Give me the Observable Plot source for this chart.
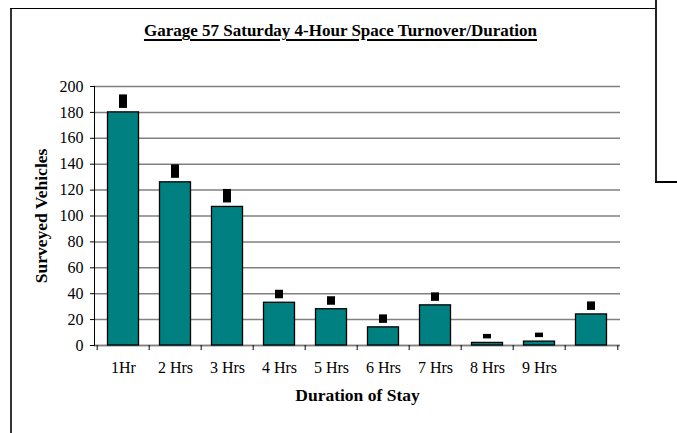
<!DOCTYPE html>
<html><head><meta charset="utf-8">
<script src="https://cdn.jsdelivr.net/npm/d3@7"></script>
<script src="https://cdn.jsdelivr.net/npm/@observablehq/plot@0.6"></script>
<style>
body{margin:0;background:#fff;}
#wrap{position:relative;width:677px;height:433px;overflow:hidden;font-family:"Liberation Serif","Times New Roman",serif;}
.ln{position:absolute;background:#000;}
#title{position:absolute;left:0;width:681px;top:21px;line-height:19px;text-align:center;font-family:"Liberation Serif",serif;font-weight:bold;font-size:17px;text-decoration:underline;text-decoration-thickness:1.5px;text-underline-offset:3px;color:#000;}
#chart{position:absolute;left:0;top:0;}
#chart svg, #chart svg text{font-family:"Liberation Serif","Times New Roman",serif !important;}
</style></head><body>
<div id="wrap">
  <div id="chart"></div>
  <div class="ln" style="left:10px;top:8px;width:2px;height:425px;background:#333"></div>
  <div class="ln" style="left:10px;top:7.5px;width:646px;height:1.5px;"></div>
  <div class="ln" style="left:655px;top:0;width:1.5px;height:182px;background:#222"></div>
  <div class="ln" style="left:655px;top:181px;width:22px;height:1.5px;"></div>
  <div id="title">Garage 57 Saturday 4-Hour Space Turnover/Duration</div>
</div>
<script>
const tickLabels = ["1Hr","2 Hrs","3 Hrs","4 Hrs","5 Hrs","6 Hrs","7 Hrs","8 Hrs","9 Hrs",""];
const vehicles = [180,126,107,33,28,14,31,2,3,24];
const yTicks = [0,20,40,60,80,100,120,140,160,180,200];

const data = tickLabels.map((label,i)=>({i,label,v:vehicles[i]}));
const idx = data.map(d=>d.i);
const big = data.filter(d=>d.v>=100);
const mid = data.filter(d=>d.v>=10 && d.v<100);
const small = data.filter(d=>d.v<10);
const mk = {x:"i", y1:"v", y2:"v", fill:"black", insetLeft:22, insetRight:22};
const serif = '"Liberation Serif","Times New Roman",serif';

const plot = Plot.plot({
  width:677, height:433,
  marginLeft:94, marginRight:57, marginTop:86, marginBottom:88,
  style:{fontFamily:serif, fontSize:"16px", color:"#000", background:"transparent"},
  x:{type:"band", domain:idx, padding:0},
  y:{domain:[0,200]},
  marks:[
    Plot.gridY(yTicks,{stroke:"#808080", strokeOpacity:1, strokeWidth:1.5}),
    Plot.ruleY([0],{stroke:"#808080", strokeWidth:1.5}),
    Plot.barY(data,{x:"i", y:"v", fill:"#008080", stroke:"#000", strokeWidth:1.3, insetLeft:10.5, insetRight:10.5}),
    Plot.barY(big,{...mk, insetTop:-17.5, insetBottom:4}),
    Plot.barY(mid,{...mk, insetTop:-12.5, insetBottom:4}),
    Plot.barY(small,{...mk, insetTop:-8.5, insetBottom:4}),
    Plot.frame({anchor:"left", stroke:"#000", strokeWidth:1}),
    Plot.axisY({ticks:yTicks, tickSize:4, tickPadding:7, label:null, stroke:"#000", fontSize:16, fontFamily:serif}),
    Plot.axisX({ticks:idx, tickSize:0, tickPadding:16, tickFormat:i=>tickLabels[i], label:null, fontSize:16, fontFamily:serif}),
    Plot.axisX({ticks:idx, tickSize:5, dx:-26.3, tickFormat:()=>"", label:null, stroke:"#000"}),
    Plot.axisX({ticks:[idx[idx.length-1]], tickSize:5, dx:26.3, tickFormat:()=>"", label:null, stroke:"#000"}),
    Plot.text(["Duration of Stay"],{frameAnchor:"bottom", dy:55.5, fontWeight:"bold", fontSize:17.5, fill:"#000"}),
    Plot.text(["Surveyed Vehicles"],{frameAnchor:"left", textAnchor:"middle", dx:-53, rotate:-90, fontWeight:"bold", fontSize:17.5, fill:"#000"})
  ]
});
document.getElementById("chart").appendChild(plot);
</script>
</body></html>
